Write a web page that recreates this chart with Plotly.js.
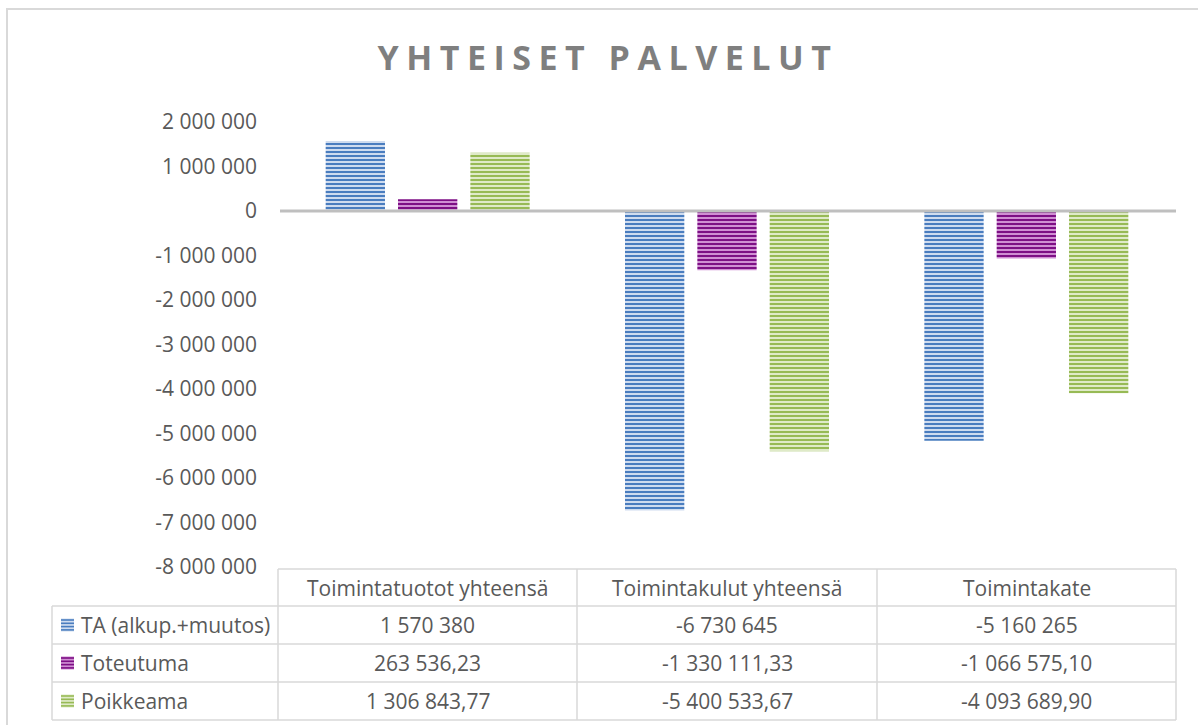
<!DOCTYPE html>
<html>
<head>
<meta charset="utf-8">
<script src="https://cdn.plot.ly/plotly-3.0.1.min.js"></script>
<style>html,body{margin:0;padding:0;background:#fff;}#chart{width:1198px;height:725px;}</style>
</head>
<body>
<div id="chart"></div>
<script>
// ---- data ----
const chartTitle = "YHTEISET PALVELUT";
const categories = ["Toimintatuotot yhteensä", "Toimintakulut yhteensä", "Toimintakate"];
const seriesNames = ["TA (alkup.+muutos)", "Toteutuma", "Poikkeama"];
const taValues = [1570380, -6730645, -5160265];
const toteutumaValues = [263536.23, -1330111.33, -1066575.10];
const poikkeamaValues = [1306843.77, -5400533.67, -4093689.90];
const seriesDecimals = [0, 2, 2];
const yTickVals = [2000000, 1000000, 0, -1000000, -2000000, -3000000, -4000000, -5000000, -6000000, -7000000, -8000000];

// ---- style ----
const fgColors = ["#4a7dbf", "#7d0f85", "#97ba55"];
const bgColors = ["#cfdcef", "#cf8fd3", "#dfeac8"];
const textColor = "#595959";
const gridColor = "#d9d9d9";
const FONT = "'Open Sans', Lato, sans-serif";
const FS = 21;

const W = 1198, H = 725;
const plotL = 278, plotR = 1176, plotT = 122, plotB = 567;
const px = v => (v - plotL) / (plotR - plotL);
const py = v => (plotB - v) / (plotB - plotT);

function fmt(v, dec) {
  const neg = v < 0;
  let s = Math.abs(v).toFixed(dec);
  let [ip, fp] = s.split(".");
  ip = ip.replace(/\B(?=(\d{3})+(?!\d))/g, " ");
  return (neg ? "-" : "") + ip + (fp ? "," + fp : "");
}

const allSeries = [taValues, toteutumaValues, poikkeamaValues];

const traces = allSeries.map((vals, i) => ({
  type: "bar",
  name: seriesNames[i],
  x: categories,
  y: vals,
  marker: {
    color: bgColors[i],
    line: {width: 0},
    pattern: {shape: "-", fgcolor: fgColors[i], bgcolor: bgColors[i], size: 4, solidity: 0.5, fillmode: "replace"}
  },
  showlegend: false,
  hoverinfo: "skip"
}));

const shapes = [];
const annotations = [];
const lineStyle = {color: gridColor, width: 1.5};

// outer frame
shapes.push({type: "rect", xref: "paper", yref: "paper", x0: px(7), x1: px(1210), y0: py(9), y1: py(740), line: {color: "#d9d9d9", width: 2}, layer: "below"});

// zero line above bars
shapes.push({type: "line", xref: "paper", yref: "y", x0: px(280), x1: 1, y0: 0, y1: 0, line: {color: "#bfbfbf", width: 3}, layer: "above"});

// table grid
const tableLeft = 52;
const colEdges = [278, 577, 877, 1176];
const rowEdges = [569, 606, 644, 682, 720];
shapes.push({type: "line", xref: "paper", yref: "paper", x0: px(colEdges[0]), x1: px(colEdges[3]), y0: py(rowEdges[0]), y1: py(rowEdges[0]), line: lineStyle});
for (let r = 1; r < rowEdges.length; r++) {
  shapes.push({type: "line", xref: "paper", yref: "paper", x0: px(tableLeft), x1: px(colEdges[3]), y0: py(rowEdges[r]), y1: py(rowEdges[r]), line: lineStyle});
}
colEdges.forEach(c => shapes.push({type: "line", xref: "paper", yref: "paper", x0: px(c), x1: px(c), y0: py(rowEdges[0]), y1: py(rowEdges[4]), line: lineStyle}));
shapes.push({type: "line", xref: "paper", yref: "paper", x0: px(tableLeft), x1: px(tableLeft), y0: py(rowEdges[1]), y1: py(rowEdges[4]), line: lineStyle});

// header category labels
categories.forEach((c, j) => {
  annotations.push({xref: "paper", yref: "paper", x: px((colEdges[j] + colEdges[j + 1]) / 2), y: py((rowEdges[0] + rowEdges[1]) / 2),
    text: c, showarrow: false, xanchor: "center", yanchor: "middle", font: {family: FONT, size: FS, color: textColor}});
});

// rows
allSeries.forEach((vals, i) => {
  const top = rowEdges[i + 1], bot = rowEdges[i + 2];
  const mid = (top + bot) / 2;
  const kx0 = 61, kx1 = 74, ky0 = mid - 6.5, ky1 = mid + 6.5;
  shapes.push({type: "rect", xref: "paper", yref: "paper", x0: px(kx0), x1: px(kx1), y0: py(ky0), y1: py(ky1), fillcolor: bgColors[i], line: {width: 0}});
  for (let k = 0; k < 4; k++) {
    const yy = ky0 + 1.5 + k * 3.3;
    shapes.push({type: "line", xref: "paper", yref: "paper", x0: px(kx0), x1: px(kx1), y0: py(yy), y1: py(yy), line: {color: fgColors[i], width: 1.6}});
  }
  annotations.push({xref: "paper", yref: "paper", x: px(79), y: py(mid), text: seriesNames[i], showarrow: false,
    xanchor: "left", yanchor: "middle", font: {family: FONT, size: FS, color: textColor}});
  vals.forEach((v, j) => {
    annotations.push({xref: "paper", yref: "paper", x: px((colEdges[j] + colEdges[j + 1]) / 2), y: py(mid),
      text: fmt(v, seriesDecimals[i]), showarrow: false, xanchor: "center", yanchor: "middle", font: {family: FONT, size: FS, color: textColor}});
  });
});

const layout = {
  width: W, height: H,
  margin: {l: plotL, r: W - plotR, t: plotT, b: H - plotB, pad: 0},
  paper_bgcolor: "#ffffff", plot_bgcolor: "#ffffff",
  separators: ", ",
  title: {text: chartTitle, x: 608 / W, xref: "container", xanchor: "center", y: 1 - 58 / H, yref: "container", yanchor: "middle",
    font: {family: FONT, size: 34, color: "#7f7f7f", weight: 700}},
  barmode: "group",
  bargap: 0.275,
  bargroupgap: 0.18,
  xaxis: {showticklabels: false, showgrid: false, zeroline: false, showline: false, ticks: "", fixedrange: true},
  yaxis: {range: [-8000000, 2000000], tickvals: yTickVals, ticktext: yTickVals.map(v => fmt(v, 0)), showgrid: false, zeroline: false, showline: false, ticks: "",
    ticklabelstandoff: 20, tickfont: {family: FONT, size: FS, color: textColor}, fixedrange: true},
  shapes: shapes,
  annotations: annotations,
  showlegend: false
};

Plotly.newPlot("chart", traces, layout, {displayModeBar: false, staticPlot: true}).then(gd => {
  const t = gd.querySelector(".gtitle");
  if (t) t.style.letterSpacing = "7.5px";
});
</script>
</body>
</html>
